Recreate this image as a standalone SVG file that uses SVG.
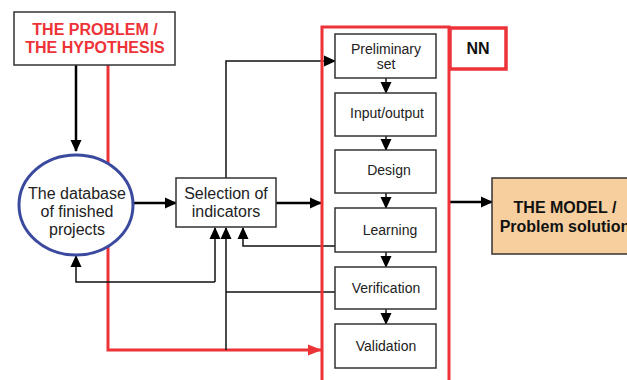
<svg xmlns="http://www.w3.org/2000/svg" width="627" height="380" viewBox="0 0 627 380">
<defs>
<marker id="ah" markerUnits="userSpaceOnUse" markerWidth="12" markerHeight="12" viewBox="0 0 12 12" refX="11" refY="6" orient="auto"><path d="M0,0.5 L12,6 L0,11.5 Z" fill="#000"/></marker>
<marker id="ahr" markerUnits="userSpaceOnUse" markerWidth="14" markerHeight="12" viewBox="0 0 14 12" refX="13" refY="6" orient="auto"><path d="M0,0.5 L14,6 L0,11.5 Z" fill="#ee3338"/></marker>
</defs>
<style>
.box{fill:#fff;stroke:#333;stroke-width:1.5}
.t{font-family:"Liberation Sans",Arial,sans-serif;font-size:14px;fill:#222;text-anchor:middle}
.t16{font-family:"Liberation Sans",Arial,sans-serif;font-size:16px;fill:#222;text-anchor:middle}
.b{font-family:"Liberation Sans",Arial,sans-serif;font-size:16px;font-weight:bold;text-anchor:middle}
.thin{fill:none;stroke:#111;stroke-width:1.5}
.thick{fill:none;stroke:#000;stroke-width:2.5}
.red{fill:none;stroke:#ee3338;stroke-width:3}
</style>
<g id="connectors">
<path class="thick" d="M76,65 V151" marker-end="url(#ah)"/>
<path class="red" d="M108,65 V350 H321" marker-end="url(#ahr)"/>
<path class="thick" d="M133,203 H176" marker-end="url(#ah)"/>
<path class="thick" d="M276,203 H321" marker-end="url(#ah)"/>
<path class="thin" d="M226,178 V61 H335" marker-end="url(#ah)"/>
<path class="thin" d="M215,282 H76 V256" marker-end="url(#ah)"/>
<path class="thin" d="M215,282 V228" marker-end="url(#ah)"/>
<path class="thin" d="M226,350 V228" marker-end="url(#ah)"/>
<path class="thin" d="M335,292 H226"/>
<path class="thin" d="M335,246 H243 V228" marker-end="url(#ah)"/>
<path class="thin" d="M386,78 V93" marker-end="url(#ah)"/>
<path class="thin" d="M386,136 V150" marker-end="url(#ah)"/>
<path class="thin" d="M386,193 V208" marker-end="url(#ah)"/>
<path class="thin" d="M386,252 V267" marker-end="url(#ah)"/>
<path class="thin" d="M386,309 V324" marker-end="url(#ah)"/>
<path class="thick" d="M449,202 H492" marker-end="url(#ah)"/>
</g>
<g id="nn-frame">
<rect x="322" y="27" width="127" height="360" fill="none" stroke="#ee3338" stroke-width="3"/>
</g>
<g id="nn-label">
<rect x="450" y="28" width="56" height="41" fill="#fff" stroke="#ee3338" stroke-width="3.5"/>
<text class="b" x="478" y="54" fill="#111">NN</text>
</g>
<g id="problem">
<rect x="14" y="12" width="161" height="53" fill="#fff" stroke="#333" stroke-width="1.5"/>
<text class="b" x="95" y="35" fill="#ee3338">THE PROBLEM /</text>
<text class="b" x="95" y="53" fill="#ee3338">THE HYPOTHESIS</text>
</g>
<g id="database">
<ellipse cx="76" cy="205" rx="57" ry="50" fill="#fff" stroke="#3b4a9f" stroke-width="3"/>
<text class="t16" x="77" y="199">The database</text>
<text class="t16" x="77" y="217">of finished</text>
<text class="t16" x="77" y="235">projects</text>
</g>
<g id="selection">
<rect x="176" y="178" width="100" height="49" class="box"/>
<text class="t16" x="226" y="199">Selection of</text>
<text class="t16" x="226" y="217">indicators</text>
</g>
<g id="preliminary">
<rect x="335" y="34" width="101" height="44" class="box"/>
<text class="t" x="386" y="54">Preliminary</text>
<text class="t" x="386" y="69">set</text>
</g>
<g id="inputoutput">
<rect x="335" y="93" width="101" height="43" class="box"/>
<text class="t" x="387" y="118">Input/output</text>
</g>
<g id="design">
<rect x="335" y="150" width="101" height="43" class="box"/>
<text class="t" x="389" y="175">Design</text>
</g>
<g id="learning">
<rect x="335" y="208" width="101" height="44" class="box"/>
<text class="t" x="390" y="235">Learning</text>
</g>
<g id="verification">
<rect x="335" y="267" width="101" height="42" class="box"/>
<text class="t" x="386" y="293">Verification</text>
</g>
<g id="validation">
<rect x="335" y="324" width="101" height="44" class="box"/>
<text class="t" x="386" y="351">Validation</text>
</g>
<g id="model">
<rect x="492" y="178" width="145" height="76" fill="#f7cf9f" stroke="#333" stroke-width="1.5"/>
<text class="b" x="565" y="213" fill="#111">THE MODEL /</text>
<text class="b" x="565" y="232" fill="#111">Problem solution</text>
</g>
</svg>
